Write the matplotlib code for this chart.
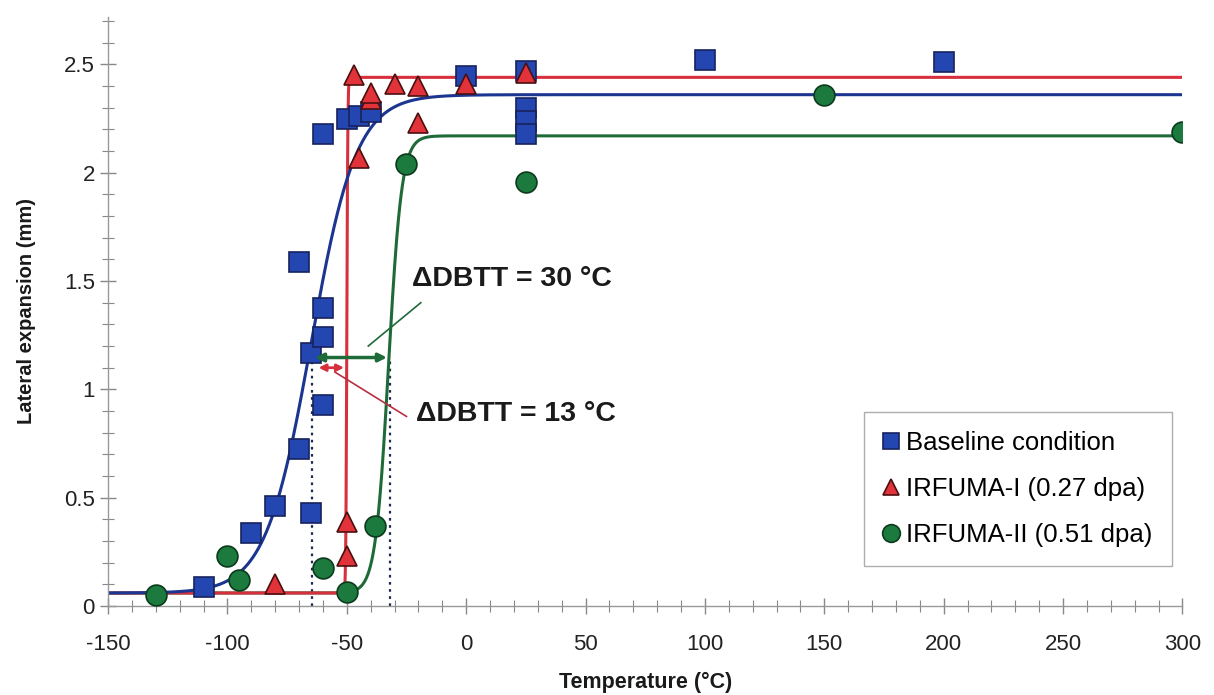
import numpy as np
import matplotlib
matplotlib.use("Agg")
import matplotlib.pyplot as plt
from matplotlib.ticker import MultipleLocator

plt.rcParams["font.family"] = ["Liberation Sans", "DejaVu Sans"]
plt.rcParams["axes.unicode_minus"] = False

# data
base_T = [-110, -90, -80, -70, -70, -65, -65, -60, -60, -60, -60, -50, -45, -40,
          0, 25, 25, 25, 25, 100, 200]
base_LE = [0.09, 0.335, 0.46, 0.725, 1.59, 1.17, 0.43, 1.24, 1.375, 0.93, 2.18,
           2.25, 2.26, 2.28, 2.445, 2.47, 2.30, 2.24, 2.18, 2.52, 2.51]

irr1_T = [-80, -50, -50, -47, -45, -40, -40, -30, -20, -20, 0, 25]
irr1_LE = [0.10, 0.23, 0.39, 2.45, 2.07, 2.34, 2.37, 2.41, 2.40, 2.23, 2.41, 2.46]

irr2_T = [-130, -100, -95, -60, -50, -38, -25, 25, 150, 300]
irr2_LE = [0.05, 0.23, 0.12, 0.175, 0.065, 0.37, 2.04, 1.955, 2.36, 2.19]

# tanh fits: lower shelf, upper shelf, T0, C
fit_base = (0.06, 2.36, -65.0, 19.0)
fit_irr1 = (0.06, 2.44, -50.0, 0.4)
fit_irr2 = (0.06, 2.17, -32.5, 5.5)

dbtt_base = -64.5
dbtt_irr1 = -50.0
dbtt_irr2 = -32.0

BLUE_LINE = "#1b3590"
RED_LINE = "#d7303c"
GREEN_LINE = "#1e6a38"


def tanh_fit(T, p):
    lo, up, t0, c = p
    return lo + (up - lo) / 2 * (1 + np.tanh((T - t0) / c))


T = np.linspace(-150, 300, 4000)

fig = plt.figure(figsize=(12.14, 6.95), dpi=100)
ax = fig.add_axes([0.089, 0.128, 0.885, 0.848])

ax.plot(T, tanh_fit(T, fit_irr2), color=GREEN_LINE, lw=2.2, zorder=2)
ax.plot(T, tanh_fit(T, fit_irr1), color=RED_LINE, lw=2.2, zorder=2.1)
ax.plot(T, tanh_fit(T, fit_base), color=BLUE_LINE, lw=2.2, zorder=2.2)

# dotted DBTT markers
ax.plot([dbtt_base, dbtt_base], [0, 1.15], ls=(0, (1.2, 2)), color="#1a2a50", lw=1.6, zorder=1.5)
ax.plot([dbtt_irr2, dbtt_irr2], [0, 1.15], ls=(0, (1.2, 2)), color="#1a2a50", lw=1.6, zorder=1.5)

ax.plot(base_T, base_LE, ls="none", marker="s", ms=14, mfc="#2446b0", mec="#16225e",
        mew=1.2, zorder=3, label="Baseline condition")
ax.plot(irr1_T, irr1_LE, ls="none", marker="^", ms=14, mfc="#e2323a", mec="#4a1010",
        mew=1.2, zorder=4, label="IRFUMA-I (0.27 dpa)")
ax.plot(irr2_T, irr2_LE, ls="none", marker="o", ms=15, mfc="#1d7a3e", mec="#0c3a1c",
        mew=1.2, zorder=3.5, label="IRFUMA-II (0.51 dpa)")

# shift arrows
ax.annotate("", xy=(dbtt_irr2, 1.147), xytext=(dbtt_base, 1.147),
            arrowprops=dict(arrowstyle="<|-|>", color=GREEN_LINE, lw=2.5,
                            mutation_scale=12), zorder=5)
ax.annotate("", xy=(dbtt_irr1, 1.10), xytext=(dbtt_base + 1.5, 1.10),
            arrowprops=dict(arrowstyle="<|-|>", color=RED_LINE, lw=2.0,
                            mutation_scale=10), zorder=5)
ax.plot([-41, -19], [1.2, 1.4], color=GREEN_LINE, lw=1.2, zorder=5)
ax.plot([-55, -25], [1.08, 0.875], color="#b83040", lw=1.2, zorder=5)
ax.text(-22.5, 1.51, "ΔDBTT = 30 °C", fontsize=20.5, fontweight="bold",
        color="#1a1a1a", va="center", ha="left")
ax.text(-21, 0.885, "ΔDBTT = 13 °C", fontsize=20.5, fontweight="bold",
        color="#1a1a1a", va="center", ha="left")

ax.set_xlim(-150, 300)
ax.set_ylim(0, 2.72)
ax.xaxis.set_major_locator(MultipleLocator(50))
ax.xaxis.set_minor_locator(MultipleLocator(10))
ax.yaxis.set_minor_locator(MultipleLocator(0.1))
ax.set_yticks([0, 0.5, 1, 1.5, 2, 2.5])
ax.set_yticklabels(["0", "0.5", "1", "1.5", "2", "2.5"])
ax.tick_params(which="both", direction="inout", color="#888888", labelsize=16,
               labelcolor="#222222")
ax.tick_params(which="major", length=12, width=1)
ax.tick_params(which="minor", length=8, width=0.8)
ax.tick_params(axis="x", pad=14)

for side in ("top", "right"):
    ax.spines[side].set_visible(False)
for side in ("left", "bottom"):
    ax.spines[side].set_color("#999999")
    ax.spines[side].set_linewidth(1.0)

ax.set_xlabel("Temperature (°C)", fontsize=15.5, fontweight="bold",
              labelpad=12, color="#1a1a1a")
ax.set_ylabel("Lateral expansion (mm)", fontsize=14.5, fontweight="bold",
              labelpad=20, color="#1a1a1a")

leg = ax.legend(loc="lower right", bbox_to_anchor=(0.99, 0.068), fontsize=18.5,
                frameon=True, fancybox=False, edgecolor="#999999", markerscale=0.85,
                handlelength=0.6, handletextpad=0.3, labelspacing=0.85,
                borderpad=0.75, borderaxespad=0)
leg.get_frame().set_linewidth(1.0)

fig.savefig("out.png", dpi=100)
